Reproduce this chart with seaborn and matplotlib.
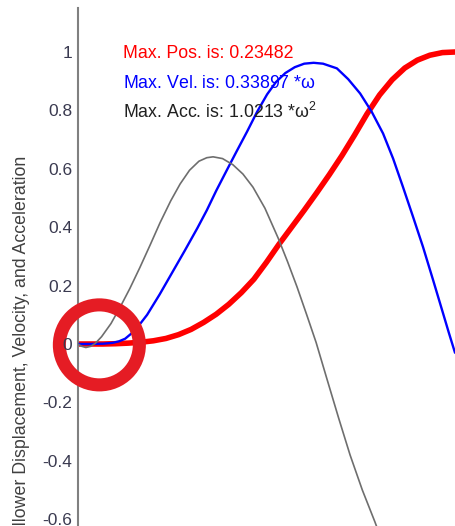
import numpy as np
import pandas as pd
import matplotlib
matplotlib.use("Agg")
import matplotlib.pyplot as plt
import matplotlib.patches as mpatches
import matplotlib.transforms as mtransforms
import seaborn as sns

# Cam angle (deg) and normalized follower curves
pos_angle = [0, 4, 8, 12, 16, 20, 24, 28, 32, 36, 40, 44, 48, 52, 56, 60, 64, 68, 72,
             76, 80, 84, 88, 92, 96, 100, 104, 108, 112, 116, 120]
pos_value = [0.0, 0.0, 0.0, 0.001, 0.003, 0.006, 0.011, 0.019, 0.032, 0.050, 0.074,
             0.102, 0.136, 0.176, 0.222, 0.280, 0.342, 0.400, 0.458, 0.518, 0.580,
             0.645, 0.715, 0.788, 0.853, 0.905, 0.945, 0.972, 0.989, 0.998, 1.0]

vel_angle = [0, 4, 8, 11, 13, 15, 17, 19.7, 22, 26, 30, 34, 38, 41, 44, 47.4, 50.5, 53.8,
             57, 60.2, 63, 66, 69, 72, 75, 78, 82.4, 86, 89.8, 93.5, 97.1, 100.3, 103.4,
             106.6, 109.8, 113, 116.2, 118, 120]
vel_value = [0.0, 0.0, 0.001, 0.004, 0.009, 0.018, 0.036, 0.068, 0.100, 0.170, 0.245,
             0.320, 0.397, 0.458, 0.525, 0.596, 0.660, 0.727, 0.795, 0.855, 0.897, 0.928,
             0.948, 0.960, 0.963, 0.960, 0.944, 0.907, 0.858, 0.795, 0.721, 0.635, 0.539,
             0.437, 0.333, 0.220, 0.105, 0.040, -0.030]

acc_angle = [0, 1.2, 2.5, 4, 5.5, 7.5, 10.5, 13.5, 16.5, 19.7, 23, 26.1, 29.5, 32.5, 35.5,
             38.5, 41, 43, 46, 49.3, 52.5, 55.7, 59.5, 63.7, 66.7, 69.7, 72.8, 75.8, 79.3,
             83, 86.6, 90.5, 94.5, 98]
acc_value = [0.0, -0.008, -0.012, -0.008, 0.002, 0.025, 0.070, 0.128, 0.190, 0.262, 0.340,
             0.415, 0.490, 0.548, 0.595, 0.626, 0.638, 0.641, 0.635, 0.614, 0.582, 0.537,
             0.465, 0.363, 0.282, 0.196, 0.100, 0.005, -0.122, -0.255, -0.380, -0.500,
             -0.609, -0.710]

y_ticks = [-1.0, -0.8, -0.6, -0.4, -0.2, 0.0, 0.2, 0.4, 0.6, 0.8, 1.0]
y_tick_labels = ["-1", "-0.8", "-0.6", "-0.4", "-0.2", "0", "0.2", "0.4", "0.6", "0.8", "1"]

max_pos_text = "Max. Pos. is: 0.23482"
max_vel_text = r"Max. Vel. is: 0.33897 *$\mathregular{\omega}$"
max_acc_text = r"Max. Acc. is: 1.0213 *$\mathregular{\omega^2}$"
y_label = "Follower Displacement, Velocity, and Acceleration"

sns.set_style("white")
plt.rcParams["font.family"] = ["Liberation Sans", "DejaVu Sans"]
plt.rcParams["mathtext.fontset"] = "custom"
plt.rcParams["mathtext.rm"] = "Liberation Sans"
plt.rcParams["mathtext.it"] = "Liberation Sans:italic"

pos_df = pd.DataFrame({"angle": pos_angle, "value": pos_value})
vel_df = pd.DataFrame({"angle": vel_angle, "value": vel_value})
acc_df = pd.DataFrame({"angle": acc_angle, "value": acc_value})

fig = plt.figure(figsize=(4.55, 5.26), dpi=100)
ax = fig.add_axes([78 / 455, (526 - 694.4) / 526, 377 / 455, 686.2 / 526])

sns.lineplot(data=pos_df, x="angle", y="value", color="#ff0000", linewidth=4.0, ax=ax, zorder=2)
sns.lineplot(data=vel_df, x="angle", y="value", color="#0000ff", linewidth=1.7, ax=ax, zorder=3)
sns.lineplot(data=acc_df, x="angle", y="value", color="#6e6e6e", linewidth=1.2, ax=ax, zorder=4)
for line in ax.get_lines():
    line.set_solid_joinstyle("round")
    line.set_solid_capstyle("round")

ax.set_xlim(0, 120)
ax.set_ylim(-1.2, 1.15)
ax.set_yticks(y_ticks)
ax.set_yticklabels(y_tick_labels)
ax.set_xticks([])
ax.set_xlabel("")
ax.set_ylabel(y_label, fontsize=12.8, color="#404040")
ax.yaxis.set_label_coords(-48 / 377, 0.5)

for side in ("top", "right", "bottom"):
    ax.spines[side].set_visible(False)
ax.spines["left"].set_color("#808080")
ax.spines["left"].set_linewidth(1.5)
ax.tick_params(axis="y", direction="in", length=11.5, width=1.4, color="#808080",
               labelcolor="#3a3a50", labelsize=12.5, pad=4.3)

ax.text(14.3, 0.979, max_pos_text, color="#ff0000", fontsize=12.8, va="baseline", ha="left")
ax.text(14.3, 0.877, max_vel_text, color="#0000ff", fontsize=12.8, va="baseline", ha="left")
ax.text(14.3, 0.774, max_acc_text, color="#202020", fontsize=12.8, va="baseline", ha="left")

# Highlight ring around the start of the rise
ring = mpatches.Circle((0, 0), radius=40.0, fill=False, edgecolor="#e51c24",
                       linewidth=9.4, clip_on=False, zorder=10,
                       transform=mtransforms.ScaledTranslation(6.8, -0.003, ax.transData))
ax.add_artist(ring)
ax.yaxis.set_zorder(12)

fig.savefig("out.png", dpi=100)
